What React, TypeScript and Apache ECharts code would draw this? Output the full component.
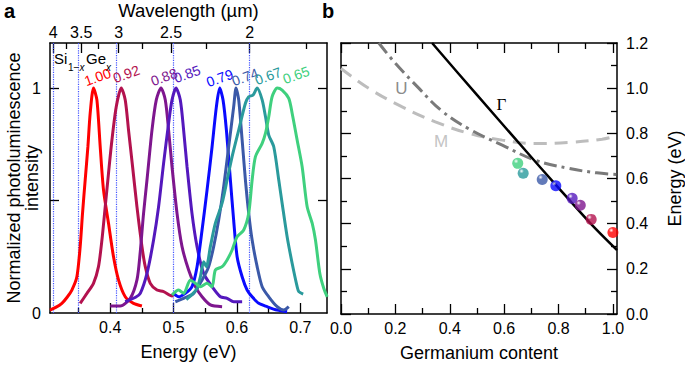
import React, { useEffect, useRef } from 'react';
import * as echarts from 'echarts';

const HC = 1.23984; // eV·µm
const FONT = '"Liberation Sans", Arial, Helvetica, sans-serif';

// ---------- panel a : data ----------
const compositions = ['1.00', '0.92', '0.88', '0.85', '0.79', '0.74', '0.67', '0.65'];
const colors = ['#ff0000', '#b3124e', '#7e168e', '#5418bd', '#0a0aff', '#3b59a8', '#2a9a9c', '#3fd07e'];

const spec100 = [[0.305,0.013],[0.314,0.025],[0.3237,0.043],[0.332,0.07],[0.3395,0.102],[0.3474,0.161],[0.3526,0.295],[0.3563,0.443],[0.3605,0.591],[0.3648,0.739],[0.3684,0.888],[0.3736,1.0],[0.379,0.947],[0.3842,0.739],[0.3894,0.547],[0.3973,0.399],[0.4052,0.25],[0.4131,0.147],[0.4237,0.072],[0.4368,0.043],[0.45,0.031]];
const spec092 = [[0.3526,0.043],[0.3632,0.087],[0.3736,0.132],[0.3815,0.206],[0.3869,0.324],[0.3921,0.472],[0.3973,0.621],[0.4027,0.769],[0.4095,0.917],[0.4174,1.0],[0.4237,0.947],[0.4289,0.813],[0.4353,0.65],[0.4422,0.472],[0.4501,0.295],[0.4553,0.206],[0.4632,0.132],[0.4738,0.102],[0.4842,0.095],[0.4975,0.076],[0.5,0.087]];
const spec088 = [[0.4,0.031],[0.4158,0.031],[0.4316,0.065],[0.4422,0.147],[0.447,0.26],[0.4526,0.443],[0.458,0.591],[0.4659,0.813],[0.4727,0.947],[0.4801,1.0],[0.4869,0.947],[0.4921,0.813],[0.4975,0.65],[0.5054,0.443],[0.5133,0.295],[0.5237,0.191],[0.5343,0.117],[0.5449,0.072],[0.558,0.036],[0.5765,0.028]];
const spec085 = [[0.4237,0.05],[0.44,0.07],[0.4474,0.087],[0.458,0.176],[0.4684,0.324],[0.4763,0.472],[0.4842,0.665],[0.4921,0.843],[0.4975,0.947],[0.5038,1.0],[0.5106,0.947],[0.5158,0.813],[0.5212,0.65],[0.529,0.443],[0.537,0.295],[0.5474,0.176],[0.5607,0.117],[0.5738,0.072],[0.5844,0.065],[0.5948,0.05],[0.6081,0.05]];
const spec079 = [[0.5,0.087],[0.5079,0.072],[0.5185,0.087],[0.529,0.117],[0.537,0.206],[0.5449,0.369],[0.5528,0.547],[0.5607,0.739],[0.5675,0.917],[0.5727,1.0],[0.578,0.947],[0.5833,0.813],[0.5896,0.591],[0.5948,0.41],[0.6002,0.25],[0.6081,0.161],[0.616,0.102],[0.6239,0.072],[0.6343,0.043],[0.6476,0.028],[0.6634,0.013],[0.6791,0.006]];
const spec074 = [[0.5027,0.05],[0.5158,0.065],[0.5316,0.087],[0.5449,0.147],[0.5553,0.206],[0.5632,0.295],[0.5711,0.413],[0.579,0.561],[0.5869,0.739],[0.5948,0.917],[0.5985,1.0],[0.6027,0.947],[0.6081,0.769],[0.6133,0.591],[0.6185,0.443],[0.6239,0.324],[0.6318,0.206],[0.6397,0.117],[0.6501,0.072],[0.6634,0.028],[0.6738,0.013],[0.6817,0.028]];
const spec067 = [[0.52,0.06],[0.53,0.085],[0.537,0.11],[0.5422,0.16],[0.5474,0.228],[0.5517,0.206],[0.558,0.295],[0.5659,0.399],[0.5765,0.488],[0.5844,0.591],[0.5923,0.695],[0.6027,0.813],[0.6133,0.932],[0.6185,0.961],[0.6254,0.969],[0.6318,1.0],[0.6397,0.947],[0.645,0.872],[0.6501,0.791],[0.658,0.739],[0.6659,0.591],[0.6712,0.488],[0.6791,0.339],[0.687,0.221],[0.6949,0.117],[0.6975,0.095],[0.7044,0.084]];
const spec065 = [[0.4975,0.08],[0.5079,0.102],[0.5158,0.087],[0.5264,0.147],[0.5343,0.132],[0.5422,0.117],[0.5528,0.132],[0.5607,0.117],[0.5659,0.191],[0.5765,0.206],[0.5844,0.236],[0.5923,0.28],[0.6002,0.339],[0.6106,0.369],[0.6185,0.443],[0.6239,0.591],[0.6291,0.695],[0.6397,0.754],[0.645,0.799],[0.6501,0.872],[0.6554,0.961],[0.6634,1.0],[0.6712,0.991],[0.6817,0.954],[0.687,0.888],[0.6949,0.769],[0.7028,0.65],[0.7107,0.472],[0.7186,0.399],[0.7238,0.324],[0.7307,0.176],[0.737,0.109],[0.7423,0.072]];
const spectra = [spec100, spec092, spec088, spec085, spec079, spec074, spec067, spec065];

const energyMajor = [0.4, 0.5, 0.6, 0.7];
const energyMinor = [0.35, 0.45, 0.55, 0.65];
const wavelengthMajor = [4, 3.5, 3, 2.5, 2];
const wavelengthMinor = [3.75, 3.25, 2.75, 2.25, 1.75];
const intensityTicks = [0.5, 1];
const intensityLabels = [0, 1];

// ---------- panel b : data ----------
const geContent = [0.65, 0.67, 0.74, 0.79, 0.85, 0.88, 0.92, 1.0];
const peakEnergy = [0.667, 0.623, 0.596, 0.568, 0.512, 0.482, 0.419, 0.361];
const sphereColors = ['#3fd07e', '#2a9a9c', '#3b59a8', '#0a0aff', '#5418bd', '#7e168e', '#b3124e', '#ff0000'];
const gammaBand = [[0.335,1.2],[0.5,0.97],[0.685,0.715],[0.79,0.572],[0.92,0.398],[1.015,0.283]];
const uBand = [[0.139,1.2],[0.2,1.11],[0.286,1.0],[0.37,0.9],[0.47,0.82],[0.593,0.748],[0.715,0.681],[0.838,0.645],[0.94,0.625],[1.015,0.618]];
const mBand = [[0,1.087],[0.102,0.999],[0.225,0.917],[0.347,0.851],[0.47,0.8],[0.593,0.77],[0.715,0.755],[0.838,0.76],[0.96,0.774],[1.015,0.789]];
const contentMajor = [0, 0.2, 0.4, 0.6, 0.8, 1.0];
const contentMinor = [0.1, 0.3, 0.5, 0.7, 0.9];
const energyBMajor = [0, 0.2, 0.4, 0.6, 0.8, 1.0, 1.2];
const energyBMinor = [0.1, 0.3, 0.5, 0.7, 0.9, 1.1];

// label placement (styling)
const labelOffsets = [[4, -11], [5, -14], [3, -11], [11, -14], [0, -10], [9, -11], [11, -12], [19, -13]];
const bandLabels = [
  { text: 'Γ', at: [0.59, 0.929], color: '#000', family: '"Liberation Serif", "DejaVu Serif", serif', series: 8 },
  { text: 'U', at: [0.2225, 0.999], color: '#8c8c8c', family: FONT, series: 9 },
  { text: 'M', at: [0.368, 0.765], color: '#c4c4c4', family: FONT, series: 10 },
];

const black = '#000';
const lineAx = { show: true, onZero: false, lineStyle: { color: black, width: 1.5 } };
const noLine = { show: false, onZero: false };
const tickStyle = { color: black, width: 1.3 };
const labelBase = { color: black, fontSize: 16, fontFamily: FONT };
const nameStyle = { color: black, fontSize: 18, fontFamily: FONT };

const fmtWl = (v: number) => String(Math.round((HC / v) * 100) / 100);

function xAx(grid: number, pos: string, min: number, max: number, ticks: number[], len: number, line: boolean, extra: any = {}) {
  return {
    gridIndex: grid, type: 'value', position: pos, min, max,
    axisLine: line ? lineAx : noLine,
    axisTick: { show: true, inside: true, length: len, customValues: ticks, lineStyle: tickStyle },
    axisLabel: { show: false },
    splitLine: { show: false },
    nameMoveOverlap: false,
    ...extra,
  };
}
const yAx = xAx;

const sphere = (c: string) => ({
  type: 'radial', x: 0.35, y: 0.3, r: 0.75,
  colorStops: [
    { offset: 0, color: '#ffffff' },
    { offset: 0.28, color: c },
    { offset: 1, color: c },
  ],
});

const option: any = {
  animation: false,
  backgroundColor: '#fff',
  grid: [
    { left: 50, top: 43, width: 277, height: 270, containLabel: false, outerBoundsMode: 'none' },
    { left: 341, top: 43, width: 276, height: 271, containLabel: false, outerBoundsMode: 'none' },
  ],
  xAxis: [
    xAx(0, 'bottom', 0.305, 0.742, energyMajor, 10, true, {
      axisLabel: { show: true, customValues: energyMajor, formatter: (v: number) => v.toFixed(1), margin: 6, ...labelBase },
      name: 'Energy (eV)', nameLocation: 'middle', nameGap: 30, nameTextStyle: nameStyle,
    }),
    xAx(0, 'bottom', 0.305, 0.742, energyMinor, 5, false),
    xAx(0, 'top', 0.305, 0.742, wavelengthMajor.map((l) => HC / l), 10, true, {
      axisLabel: { show: true, customValues: wavelengthMajor.map((l) => HC / l), formatter: fmtWl, margin: 3, ...labelBase },
      name: 'Wavelength (µm)', nameLocation: 'middle', nameGap: 23, nameTextStyle: { ...nameStyle, fontSize: 18.5 },
    }),
    xAx(0, 'top', 0.305, 0.742, wavelengthMinor.map((l) => HC / l), 6, false),
    xAx(1, 'bottom', 0, 1.015, contentMajor, 10, true, {
      axisLabel: { show: true, customValues: contentMajor, formatter: (v: number) => v.toFixed(1), margin: 6, ...labelBase },
      name: 'Germanium content', nameLocation: 'middle', nameGap: 30, nameTextStyle: nameStyle,
    }),
    xAx(1, 'bottom', 0, 1.015, contentMinor, 6, false),
    xAx(1, 'top', 0, 1.015, contentMajor, 10, true),
    xAx(1, 'top', 0, 1.015, contentMinor, 6, false),
  ],
  yAxis: [
    yAx(0, 'left', 0, 1.2, intensityTicks, 9, true, {
      axisLabel: { show: true, customValues: intensityLabels, formatter: (v: number) => String(v), margin: 9, ...labelBase },
      name: 'Normalized photoluminescence\nintensity', nameLocation: 'middle', nameGap: 9, nameRotate: 90,
      nameTextStyle: { ...nameStyle, lineHeight: 18 },
    }),
    yAx(0, 'right', 0, 1.2, intensityTicks, 9, true),
    yAx(1, 'left', 0, 1.2, energyBMajor, 10, true),
    yAx(1, 'left', 0, 1.2, energyBMinor, 6, false),
    yAx(1, 'right', 0, 1.2, energyBMajor, 10, true, {
      axisLabel: { show: true, customValues: energyBMajor, formatter: (v: number) => v.toFixed(1), margin: 9, ...labelBase },
      name: 'Energy (eV)', nameLocation: 'middle', nameGap: 49, nameRotate: 90, nameTextStyle: nameStyle,
    }),
    yAx(1, 'right', 0, 1.2, energyBMinor, 6, false),
  ],
  series: [
    ...spectra.map((s, i) => ({
      type: 'line', name: compositions[i], xAxisIndex: 0, yAxisIndex: 0, data: s,
      symbol: 'none', smooth: 0.25, lineStyle: { color: colors[i], width: 3 }, z: 3,
      ...(i === 0
        ? {
            markLine: {
              silent: true, symbol: 'none', label: { show: false },
              lineStyle: { color: '#4455ff', type: 'dotted', width: 1.2 },
              data: wavelengthMajor.map((l) => ({ xAxis: HC / l })),
              z: 1,
            },
          }
        : {}),
    })),
    {
      type: 'line', name: 'Gamma', xAxisIndex: 4, yAxisIndex: 2, data: gammaBand, symbol: 'none', smooth: 0.3,
      lineStyle: { color: '#000', width: 2.5 }, z: 4,
    },
    {
      type: 'line', name: 'U', xAxisIndex: 4, yAxisIndex: 2, data: uBand, symbol: 'none', smooth: 0.4,
      lineStyle: { color: '#7a7a7a', width: 3, type: [13, 5, 3, 5] }, z: 3,
    },
    {
      type: 'line', name: 'M', xAxisIndex: 4, yAxisIndex: 2, data: mBand, symbol: 'none', smooth: 0.4,
      lineStyle: { color: '#bdbdbd', width: 3, type: [13, 8] }, z: 2,
    },
    {
      type: 'scatter', name: 'peaks', xAxisIndex: 4, yAxisIndex: 2, symbolSize: 11, z: 6,
      data: geContent.map((x, i) => ({ value: [x, peakEnergy[i]], itemStyle: { color: sphere(sphereColors[i]) } })),
    },
  ],
};

export default function App() {
  const ref = useRef<HTMLDivElement>(null);
  useEffect(() => {
    const chart = echarts.init(ref.current!, null, { renderer: 'svg' });
    chart.setOption(option);
    const g: any[] = [];
    spectra.forEach((s, i) => {
      const peak = s.reduce((a, b) => (b[1] > a[1] ? b : a));
      const p = chart.convertToPixel({ seriesIndex: i }, peak) as number[];
      g.push({
        type: 'text', x: p[0] + labelOffsets[i][0], y: p[1] + labelOffsets[i][1], rotation: (20 * Math.PI) / 180, z: 20,
        style: { text: compositions[i], fill: colors[i], fontSize: 14, fontFamily: FONT, align: 'center', verticalAlign: 'middle' },
      });
    });
    bandLabels.forEach((b) => {
      const p = chart.convertToPixel({ seriesIndex: b.series }, b.at) as number[];
      g.push({
        type: 'text', x: p[0], y: p[1], z: 20,
        style: { text: b.text, fill: b.color, fontSize: 17, fontFamily: b.family, align: 'center', verticalAlign: 'middle' },
      });
    });
    // Si(1-x)Ge(x) label
    g.push({ type: 'text', x: 54, y: 58, z: 20, style: { text: 'Si', fill: '#000', fontSize: 15, fontFamily: FONT, align: 'left', verticalAlign: 'middle' } });
    g.push({ type: 'text', x: 68, y: 67, z: 20, style: { text: '{a|1−}{b|x}', fill: '#000', fontSize: 10, fontFamily: FONT, align: 'left', verticalAlign: 'middle', rich: { a: { fontSize: 10, fontFamily: FONT }, b: { fontSize: 10, fontStyle: 'italic', fontFamily: FONT } } } });
    g.push({ type: 'text', x: 86, y: 58, z: 20, style: { text: 'Ge', fill: '#000', fontSize: 15, fontFamily: FONT, align: 'left', verticalAlign: 'middle' } });
    g.push({ type: 'text', x: 106, y: 67, z: 20, style: { text: 'x', fill: '#000', fontSize: 10, fontStyle: 'italic', fontFamily: FONT, align: 'left', verticalAlign: 'middle' } });
    // panel letters
    g.push({ type: 'text', x: 4, y: 11, z: 20, style: { text: 'a', fill: '#000', fontSize: 20, fontWeight: 'bold', fontFamily: FONT, align: 'left', verticalAlign: 'middle' } });
    g.push({ type: 'text', x: 322, y: 11, z: 20, style: { text: 'b', fill: '#000', fontSize: 20, fontWeight: 'bold', fontFamily: FONT, align: 'left', verticalAlign: 'middle' } });
    chart.setOption({ graphic: g });
    return () => chart.dispose();
  }, []);
  return <div ref={ref} style={{ position: 'fixed', left: 0, top: 0, width: 685, height: 366 }} />;
}
